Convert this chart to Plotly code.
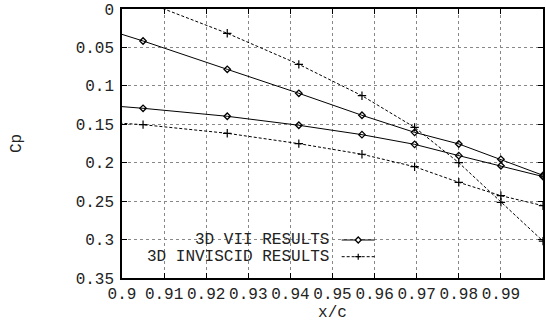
import plotly.graph_objects as go

# data (x/c, Cp)
x_vals = [0.884, 0.905, 0.925, 0.942, 0.957, 0.9695, 0.980, 0.990, 1.0]
vii_upper = [0.0055, 0.0416, 0.0785, 0.1097, 0.1383, 0.1605, 0.1756, 0.1956, 0.2164]
vii_lower = [0.120, 0.1292, 0.1396, 0.1513, 0.1635, 0.1761, 0.1908, 0.2039, 0.2180]
inv_upper = [-0.052, -0.0105, 0.0316, 0.0720, 0.1128, 0.1540, 0.2000, 0.2515, 0.3020]
inv_lower = [0.143, 0.1505, 0.1617, 0.1752, 0.1890, 0.2052, 0.2255, 0.2429, 0.2559]

x_ticks = [0.9, 0.91, 0.92, 0.93, 0.94, 0.95, 0.96, 0.97, 0.98, 0.99, 1.0]
x_ticklabels = ["0.9", "0.91", "0.92", "0.93", "0.94", "0.95", "0.96", "0.97", "0.98", "0.99", "1"]
y_ticks = [0, 0.05, 0.1, 0.15, 0.2, 0.25, 0.3, 0.35]
y_ticklabels = ["0", "0.05", "0.1", "0.15", "0.2", "0.25", "0.3", "0.35"]
legend_names = ["3D VII RESULTS", "3D INVISCID RESULTS"]

FONT = "'Courier New', 'Liberation Mono', 'DejaVu Sans Mono', monospace"
FS = 16
W, H = 547, 322
ML, MR, MT, MB = 122, 2, 9, 44
PW, PH = W - ML - MR, H - MT - MB

fig = go.Figure()
solid = dict(color="black", width=1)
dashed = dict(color="black", width=1, dash="3px,2px")
dmark = dict(symbol="diamond-open", size=5, color="black", line=dict(width=1.3, color="black"))
pmark = dict(symbol="cross-thin-open", size=6, color="black", line=dict(width=1.2, color="black"))

for ys in (vii_upper, vii_lower):
    fig.add_trace(go.Scatter(x=x_vals, y=ys, mode="lines+markers", line=solid, marker=dmark,
                             showlegend=False))
for ys in (inv_upper, inv_lower):
    fig.add_trace(go.Scatter(x=x_vals, y=ys, mode="lines+markers", line=dashed, marker=pmark,
                             showlegend=False))

# custom legend (text right-aligned, sample on the right) like gnuplot
rows_y = [(278 - 240) / PH, (278 - 256.7) / PH]
text_right = (331.7 - ML) / PW
s0, s1 = (342.7 - ML) / PW, (376 - ML) / PW
sm = (s0 + s1) / 2
shapes = []
for i, name in enumerate(legend_names):
    fig.add_annotation(x=text_right, y=rows_y[i], xref="paper", yref="paper", text=name,
                       showarrow=False, xanchor="right", yanchor="middle",
                       font=dict(family=FONT, size=FS, color="#222"))
    ln = dict(color="black", width=1) if i == 0 else dict(color="black", width=1, dash="3px,2px")
    shapes.append(dict(type="line", xref="paper", yref="paper", x0=s0, x1=s1,
                       y0=rows_y[i], y1=rows_y[i], line=ln))
dx, dy = 3 / PW, 3 / PH
yc = rows_y[0]
shapes.append(dict(type="path", xref="paper", yref="paper",
                   path=f"M {sm-dx} {yc} L {sm} {yc+dy} L {sm+dx} {yc} L {sm} {yc-dy} Z",
                   line=dict(color="black", width=1.3), fillcolor="white"))
yc = rows_y[1]
shapes.append(dict(type="path", xref="paper", yref="paper",
                   path=f"M {sm-dx} {yc} L {sm+dx} {yc} M {sm} {yc-dy} L {sm} {yc+dy}",
                   line=dict(color="black", width=1.2)))

axis_common = dict(showline=True, linecolor="black", linewidth=1.5, mirror="ticks",
                   ticks="inside", ticklen=5, tickcolor="black", tickwidth=1,
                   showgrid=True, gridcolor="#888", griddash="dot", gridwidth=1,
                   zeroline=False, tickfont=dict(family=FONT, size=FS, color="#222"))

fig.update_layout(
    width=W, height=H, margin=dict(l=ML, r=MR, t=MT, b=MB),
    paper_bgcolor="white", plot_bgcolor="white", showlegend=False,
    font=dict(family=FONT, size=FS, color="#222"),
    shapes=shapes,
    xaxis=dict(range=[0.9, 1.0], tickvals=x_ticks, ticktext=x_ticklabels,
               title=dict(text="x/c", font=dict(family=FONT, size=FS, color="#222"), standoff=2),
               **axis_common),
    yaxis=dict(range=[0.35, 0], tickvals=y_ticks, ticktext=y_ticklabels,
               ticklabelstandoff=3,
               title=dict(text="Cp", font=dict(family=FONT, size=FS, color="#222"), standoff=50),
               **axis_common),
)
fig.write_html("out.html")
